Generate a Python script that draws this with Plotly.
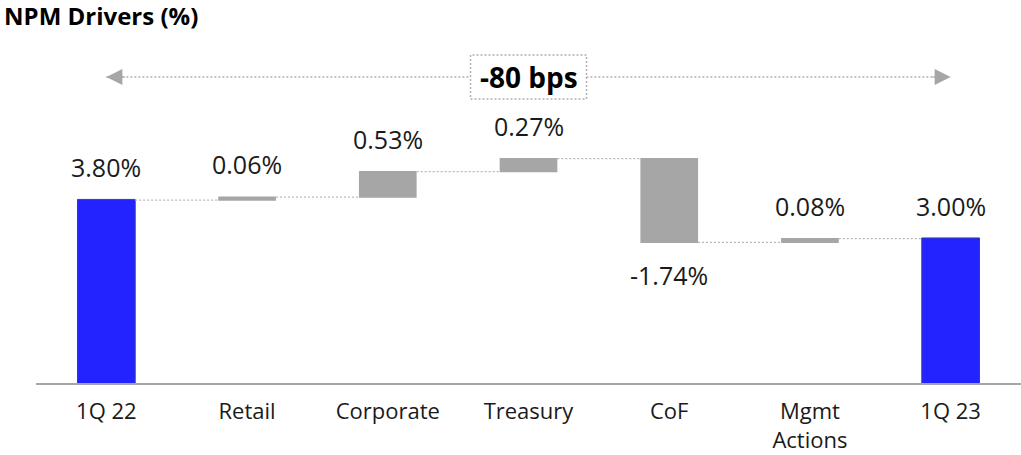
import plotly.graph_objects as go

categories = ["1Q 22", "Retail", "Corporate", "Treasury", "CoF", "Mgmt<br>Actions", "1Q 23"]
values = [3.80, 0.06, 0.53, 0.27, -1.74, 0.08, 3.00]
measures = ["absolute", "relative", "relative", "relative", "relative", "relative", "total"]
title_text = "NPM Drivers (%)"

FONT = "Open Sans"
BLUE = "#2323ff"
GRAY = "#a6a6a6"

fig = go.Figure()
x_idx = list(range(len(categories)))
fig.add_trace(go.Waterfall(
    x=x_idx, y=values, measure=measures,
    width=[0.41] * len(values),
    totals=dict(marker=dict(color=BLUE, line=dict(color="#3a3aa8", width=1))),
    increasing=dict(marker=dict(color=GRAY, line=dict(width=0))),
    decreasing=dict(marker=dict(color=GRAY, line=dict(width=0))),
    connector=dict(line=dict(color="#b8b8b8", width=1.2, dash="2px,2px")),
    textinfo="none", hoverinfo="skip", showlegend=False,
))

# value labels
level = 0.0
for i, (m, v) in enumerate(zip(measures, values)):
    if m == "absolute":
        level = v
        end, up = v, True
    elif m == "total":
        end, up = level, True
    else:
        level += v
        end, up = level, v >= 0
    fig.add_annotation(x=i, y=end, text=f"{v:.2f}%", showarrow=False,
                       yshift=33 if up else -33, yanchor="middle",
                       font=dict(family=FONT, size=25, color="#1a1a1a"))

# overall change arrow and box
start_val = values[0]
end_val = values[-1]
bps = round((end_val - start_val) * 100)
ARROW_Y = 6.355
mid = (len(categories) - 1) / 2
fig.add_shape(type="line", x0=0, x1=len(categories) - 1, y0=ARROW_Y, y1=ARROW_Y,
              xref="x", yref="y", line=dict(color="#b0b0b0", width=1.5, dash="2px,2px"))
fig.add_shape(type="rect", xref="x", yref="y", xsizemode="pixel", ysizemode="pixel",
              xanchor=mid, yanchor=ARROW_Y, x0=-58, x1=58, y0=-22, y1=22,
              fillcolor="white", line=dict(color="#b0b0b0", width=1.5, dash="2px,2px"))
fig.add_annotation(x=mid, y=ARROW_Y, text=f"<b>{bps} bps</b>", showarrow=False,
                   font=dict(family=FONT, size=28, color="black"))
for xi, ax in [(0, 20), (len(categories) - 1, -20)]:
    fig.add_annotation(x=xi, y=ARROW_Y, ax=ax, ay=0, text="", showarrow=True,
                       arrowhead=2, arrowsize=3.2, arrowwidth=1, arrowcolor=GRAY,
                       standoff=0)

fig.update_layout(
    width=1021, height=455,
    margin=dict(l=36, r=0, t=45, b=72),
    plot_bgcolor="white", paper_bgcolor="white",
    title=dict(text=f"<b>{title_text}</b>", xref="container", yref="container",
               x=0.004, xanchor="left", y=0.982, yanchor="top",
               font=dict(family=FONT, size=24, color="black")),
    xaxis=dict(tickmode="array", tickvals=x_idx, ticktext=categories,
               range=[-0.5, len(categories) - 0.5], showgrid=False, zeroline=False,
               showline=True, linecolor="#a6a6a6", linewidth=1.5,
               ticks="outside", ticklen=8, tickcolor="rgba(0,0,0,0)",
               tickfont=dict(family=FONT, size=22, color="#1a1a1a")),
    yaxis=dict(range=[0, 338 / 48.15], visible=False),
)
fig.write_html("out.html", config={"displayModeBar": False},
               post_script="document.body.style.margin='0';")
